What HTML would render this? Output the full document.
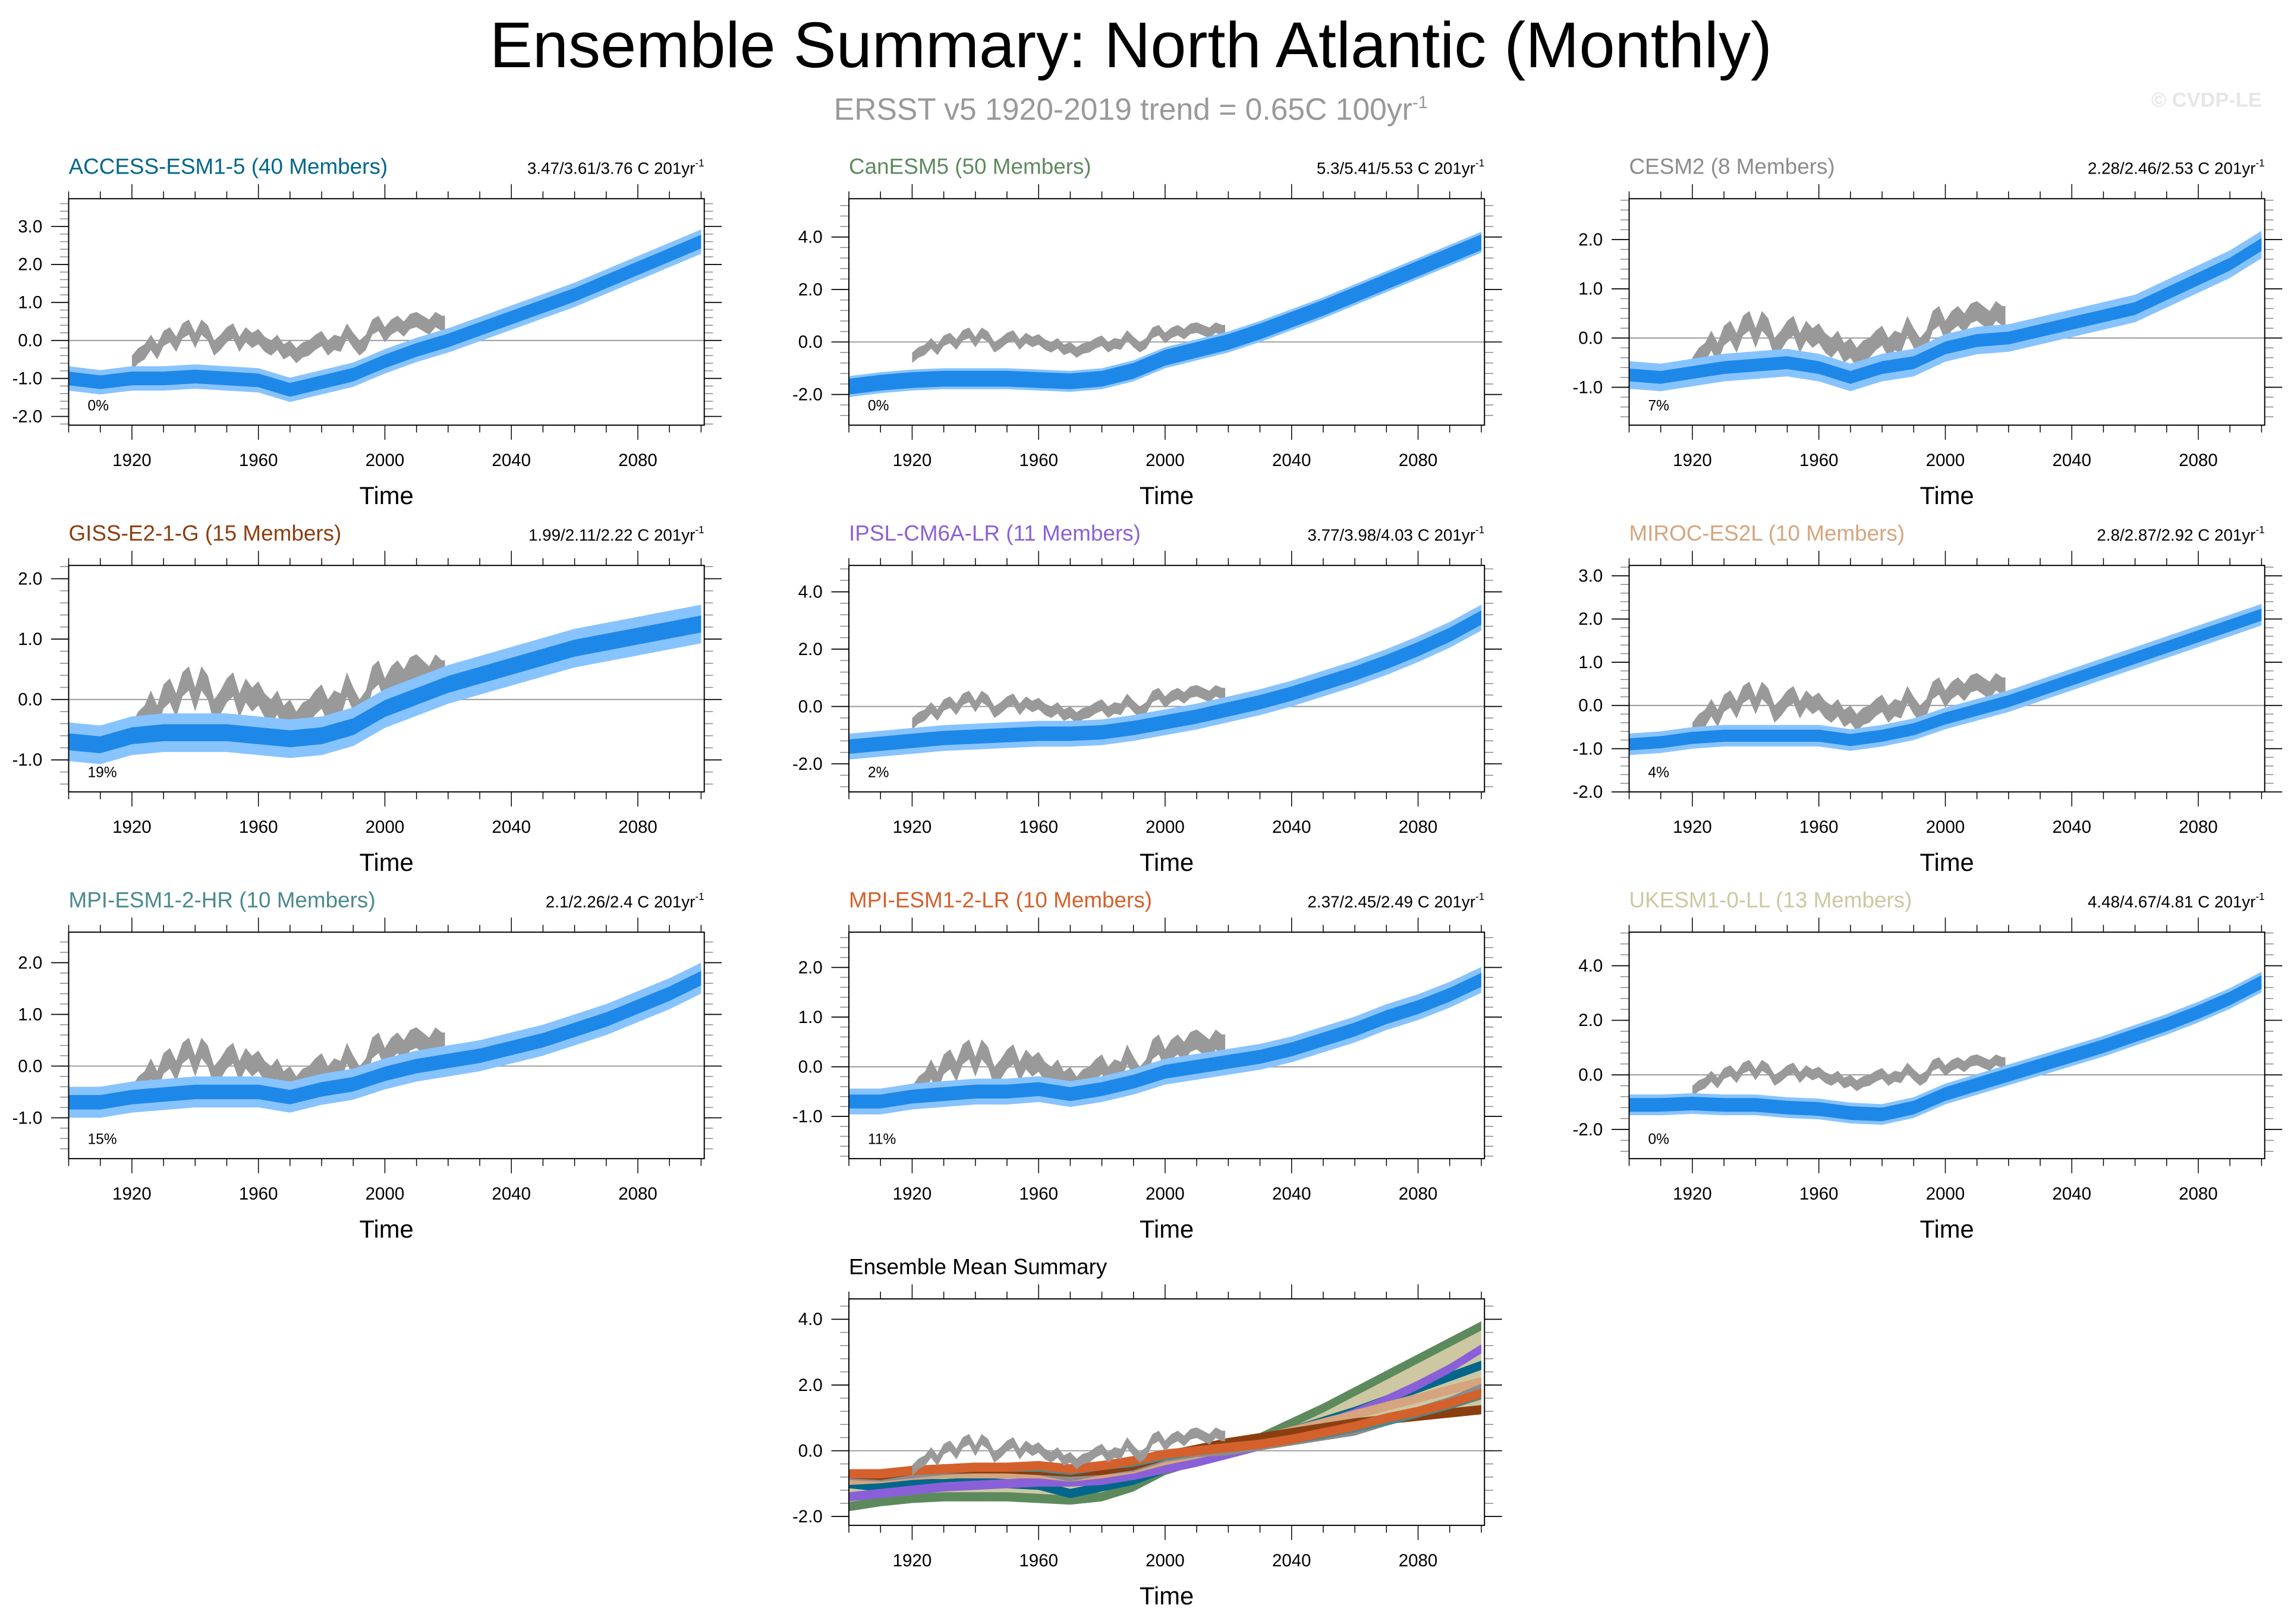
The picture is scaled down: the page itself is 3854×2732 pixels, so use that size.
<!DOCTYPE html>
<html><head><meta charset="utf-8"><style>
html,body{margin:0;padding:0;background:#fff}
svg{display:block}
text{font-family:"Liberation Sans",sans-serif}
</style></head><body>
<svg id="fig" width="3854" height="2732" viewBox="0 0 1568 1111.5" preserveAspectRatio="none" xmlns="http://www.w3.org/2000/svg">
<text x="774" y="46" font-size="44" text-anchor="middle" fill="#000">Ensemble Summary: North Atlantic (Monthly)</text>
<text x="774" y="82" font-size="21" text-anchor="middle" fill="#999">ERSST v5 1920-2019 trend = 0.65C 100yr<tspan dy="-8" font-size="12">-1</tspan></text>
<text x="1548" y="73" font-size="14" text-anchor="end" fill="#e6e6e6" font-weight="bold">© CVDP-LE</text>
</svg>
<script>
const years = [1900,1910,1920,1930,1940,1950,1960,1970,1980,1990,2000,2010,2020,2030,2040,2050,2060,2070,2080,2090,2100];
const obsYears = [1920,1922,1924,1926,1928,1930,1932,1934,1936,1938,1940,1942,1944,1946,1948,1950,1952,1954,1956,1958,1960,1962,1964,1966,1968,1970,1972,1974,1976,1978,1980,1982,1984,1986,1988,1990,1992,1994,1996,1998,2000,2002,2004,2006,2008,2010,2012,2014,2016,2018,2019];
const obsValues = [-0.6,-0.4,-0.3,-0.05,-0.3,0.05,0.15,-0.1,0.25,0.35,0.0,0.35,0.2,-0.2,-0.05,0.15,0.25,-0.1,0.15,0.0,0.1,-0.1,-0.2,-0.05,-0.3,-0.2,-0.4,-0.25,-0.2,-0.05,0.05,-0.2,-0.05,-0.1,0.25,0.0,-0.2,-0.05,0.35,0.45,0.15,0.35,0.45,0.3,0.5,0.55,0.45,0.35,0.55,0.45,0.45];
const modelNames = ["ACCESS-ESM1-5 (40 Members)","CanESM5 (50 Members)","CESM2 (8 Members)","GISS-E2-1-G (15 Members)","IPSL-CM6A-LR (11 Members)","MIROC-ES2L (10 Members)","MPI-ESM1-2-HR (10 Members)","MPI-ESM1-2-LR (10 Members)","UKESM1-0-LL (13 Members)"];
const trendLabels = ["3.47/3.61/3.76 C 201yr","5.3/5.41/5.53 C 201yr","2.28/2.46/2.53 C 201yr","1.99/2.11/2.22 C 201yr","3.77/3.98/4.03 C 201yr","2.8/2.87/2.92 C 201yr","2.1/2.26/2.4 C 201yr","2.37/2.45/2.49 C 201yr","4.48/4.67/4.81 C 201yr"];
const pctLabels = ["0%","0%","7%","19%","2%","4%","15%","11%","0%"];
const modelColors = ["#00678a","#5d8a5d","#8c8c8c","#8b3e10","#8a60d8","#d4a57e","#4a8a8c","#d4602c","#cdc8a2"];
const meanACCESS = [-1.0,-1.1,-1.0,-1.0,-0.95,-1.0,-1.05,-1.3,-1.1,-0.9,-0.55,-0.25,0.0,0.3,0.6,0.9,1.2,1.55,1.9,2.25,2.6];
const meanCanESM5 = [-1.7,-1.55,-1.45,-1.4,-1.4,-1.4,-1.45,-1.5,-1.4,-1.1,-0.6,-0.3,0.0,0.4,0.85,1.3,1.8,2.3,2.8,3.3,3.8];
const meanCESM2 = [-0.75,-0.8,-0.7,-0.6,-0.55,-0.5,-0.6,-0.8,-0.6,-0.5,-0.2,-0.05,0.0,0.15,0.3,0.45,0.6,0.9,1.2,1.5,1.9];
const meanGISS = [-0.7,-0.75,-0.6,-0.55,-0.55,-0.55,-0.6,-0.65,-0.6,-0.45,-0.15,0.05,0.25,0.4,0.55,0.7,0.85,0.95,1.05,1.15,1.25];
const meanIPSL = [-1.4,-1.3,-1.2,-1.1,-1.05,-1.0,-0.95,-0.95,-0.9,-0.75,-0.55,-0.35,-0.1,0.15,0.45,0.8,1.15,1.55,2.0,2.5,3.1];
const meanMIROC = [-0.9,-0.85,-0.75,-0.7,-0.7,-0.7,-0.7,-0.8,-0.7,-0.55,-0.3,-0.1,0.1,0.35,0.6,0.85,1.1,1.35,1.6,1.85,2.1];
const meanMPIHR = [-0.7,-0.7,-0.6,-0.55,-0.5,-0.5,-0.5,-0.6,-0.45,-0.35,-0.15,0.0,0.1,0.2,0.35,0.5,0.7,0.9,1.15,1.4,1.7];
const meanMPILR = [-0.7,-0.7,-0.6,-0.55,-0.5,-0.5,-0.45,-0.55,-0.45,-0.3,-0.1,0.0,0.1,0.2,0.35,0.55,0.75,1.0,1.2,1.45,1.75];
const meanUKESM = [-1.1,-1.1,-1.05,-1.1,-1.1,-1.2,-1.25,-1.4,-1.45,-1.2,-0.7,-0.35,0.0,0.35,0.7,1.05,1.45,1.85,2.3,2.8,3.4];
const bandHalf = [0.18,0.3,0.13,0.14,0.25,0.14,0.14,0.14,0.25];
const spreadHalf = [0.32,0.4,0.28,0.32,0.45,0.25,0.3,0.26,0.38];
const yMaxs = [3.73,5.46,2.83,2.22,4.92,3.24,2.59,2.71,5.23];
const yMins = [-2.23,-3.17,-1.77,-1.53,-2.98,-2.0,-1.79,-1.85,-3.07];
const yTickSets = [[-2,-1,0,1,2,3],[-2,0,2,4],[-1,0,1,2],[-1,0,1,2],[-2,0,2,4],[-2,-1,0,1,2,3],[-1,0,1,2],[-1,0,1,2],[-2,0,2,4]];
const xTickLabels = [1920,1960,2000,2040,2080];
const ensYMax = 4.62, ensYMin = -2.27;
const ensYTicks = [-2,0,2,4];

const means = [meanACCESS,meanCanESM5,meanCESM2,meanGISS,meanIPSL,meanMIROC,meanMPIHR,meanMPILR,meanUKESM];
const NS="http://www.w3.org/2000/svg";
const svg=document.getElementById('fig');
function mk(tag,attrs,parent){const e=document.createElementNS(NS,tag);for(const k in attrs)e.setAttribute(k,attrs[k]);(parent||svg).appendChild(e);return e;}
const colX=[47,581,1115], rowY=[136,387,638];
const PW=435, PH=155;

function drawPanel(x0,y0,ymin,ymax,yticks,title,titleColor,trend,pct,name){
  const g=mk('g',{});
  
  
  const sx=y=>x0+(y-1900)/(2101-1900)*PW;
  const sy=v=>y0+PH-(v-ymin)/(ymax-ymin)*PH;
  const t=mk('text',{x:x0,y:y0-17,'font-size':15,fill:titleColor},g);t.textContent=title;
  
  
  if(trend){const tr=mk('text',{x:x0+PW,y:y0-17,'font-size':11.3,'text-anchor':'end',fill:'#000'},g);
    
    
    tr.textContent=trend;const sp=mk('tspan',{dy:-5,'font-size':7},tr);sp.textContent='-1';}
  for(let yr=1900;yr<=2100;yr+=10){
    const X=sx(yr), major=yr%40===0&&yr!==1900&&yr!==2100;
    const L=major?10:5;
    mk('line',{x1:X,x2:X,y1:y0,y2:y0-L,stroke:'#000','stroke-width':0.6},g);
    mk('line',{x1:X,x2:X,y1:y0+PH,y2:y0+PH+L,stroke:'#000','stroke-width':0.6},g);
  }
  xTickLabels.forEach(yr=>{const l=mk('text',{x:sx(yr),y:y0+PH+28,'font-size':12,'text-anchor':'middle'},g);l.textContent=yr;
    
    });
  const tt=mk('text',{x:x0+PW/2,y:y0+PH+54,'font-size':17,'text-anchor':'middle'},g);tt.textContent='Time';
  
  
  const step=(yticks[1]-yticks[0])/5;
  for(let v=Math.ceil(ymin/step)*step; v<=ymax+1e-9; v+=step){
    const Y=sy(v);
    mk('line',{x1:x0,x2:x0-6,y1:Y,y2:Y,stroke:'#888','stroke-width':0.6},g);
    mk('line',{x1:x0+PW,x2:x0+PW+6,y1:Y,y2:Y,stroke:'#888','stroke-width':0.6},g);
  }
  yticks.forEach(v=>{const Y=sy(v);
    mk('line',{x1:x0,x2:x0-12,y1:Y,y2:Y,stroke:'#000','stroke-width':0.7},g);
    mk('line',{x1:x0+PW,x2:x0+PW+12,y1:Y,y2:Y,stroke:'#000','stroke-width':0.7},g);
    const l=mk('text',{x:x0-18,y:Y+4,'font-size':12,'text-anchor':'end'},g);l.textContent=v.toFixed(1);
    
    });
  mk('line',{x1:x0,x2:x0+PW,y1:sy(0),y2:sy(0),stroke:'#999','stroke-width':0.8},g);
  return {g,sx,sy,pct,x0,y0};
}
function pctText(P){ if(P.pct){const p=mk('text',{x:P.x0+13,y:P.y0+PH-10,'font-size':10},P.g);p.textContent=P.pct;
    
    }}
function band(g,sx,sy,arr,half,fill,name){
  const up=years.map((y,i)=>sx(y)+','+sy(arr[i]+half)).join(' ');
  const dn=years.map((y,i)=>sx(y)+','+sy(arr[i]-half)).reverse().join(' ');
  const p=mk('polygon',{points:up+' '+dn,fill:fill},g);
  
  
  return p;
}
function obs(g,sx,sy,h){
  const up=obsYears.map((y,i)=>sx(y)+','+sy(obsValues[i]+h)).join(' ');
  const dn=obsYears.map((y,i)=>sx(y)+','+sy(obsValues[i]-h)).reverse().join(' ');
  const p=mk('polygon',{points:up+' '+dn,fill:'#999'},g);
  
  
}
function frame(g,x0,y0){mk('rect',{x:x0,y:y0,width:PW,height:PH,fill:'none',stroke:'#000','stroke-width':0.8},g);}

for(let i=0;i<9;i++){
  const x0=colX[i%3], y0=rowY[Math.floor(i/3)];
  const P=drawPanel(x0,y0,yMins[i],yMaxs[i],yTickSets[i],modelNames[i],modelColors[i],trendLabels[i],pctLabels[i],'panel-'+(i+1));
  obs(P.g,P.sx,P.sy,0.2);
  band(P.g,P.sx,P.sy,means[i],spreadHalf[i],'#87c3ff','ensemble-spread');
  band(P.g,P.sx,P.sy,means[i],bandHalf[i],'#1e88e8','ensemble-mean-band');
  pctText(P);
  frame(P.g,x0,y0);
}
{
  const x0=581,y0=889;
  const P=drawPanel(x0,y0,ensYMin,ensYMax,ensYTicks,'Ensemble Mean Summary','#000',null,null,'ensemble-mean-summary-panel');
  const hi=years.map((y,i)=>Math.max(...means.map(m=>m[i])));
  const lo=years.map((y,i)=>Math.min(...means.map(m=>m[i])));
  const up=years.map((y,i)=>P.sx(y)+','+P.sy(hi[i])).join(' ');
  const dn=years.map((y,i)=>P.sx(y)+','+P.sy(lo[i])).reverse().join(' ');
  const env=mk('polygon',{points:up+' '+dn,fill:'#cdc8a2'},P.g);
  
  
  const order=[1,0,4,5,2,3,6,7];
  order.forEach(i=>band(P.g,P.sx,P.sy,means[i],0.14,modelColors[i],'summary-band-'+i));
  obs(P.g,P.sx,P.sy,0.16);
  frame(P.g,x0,y0);
}
</script>
</body></html>
